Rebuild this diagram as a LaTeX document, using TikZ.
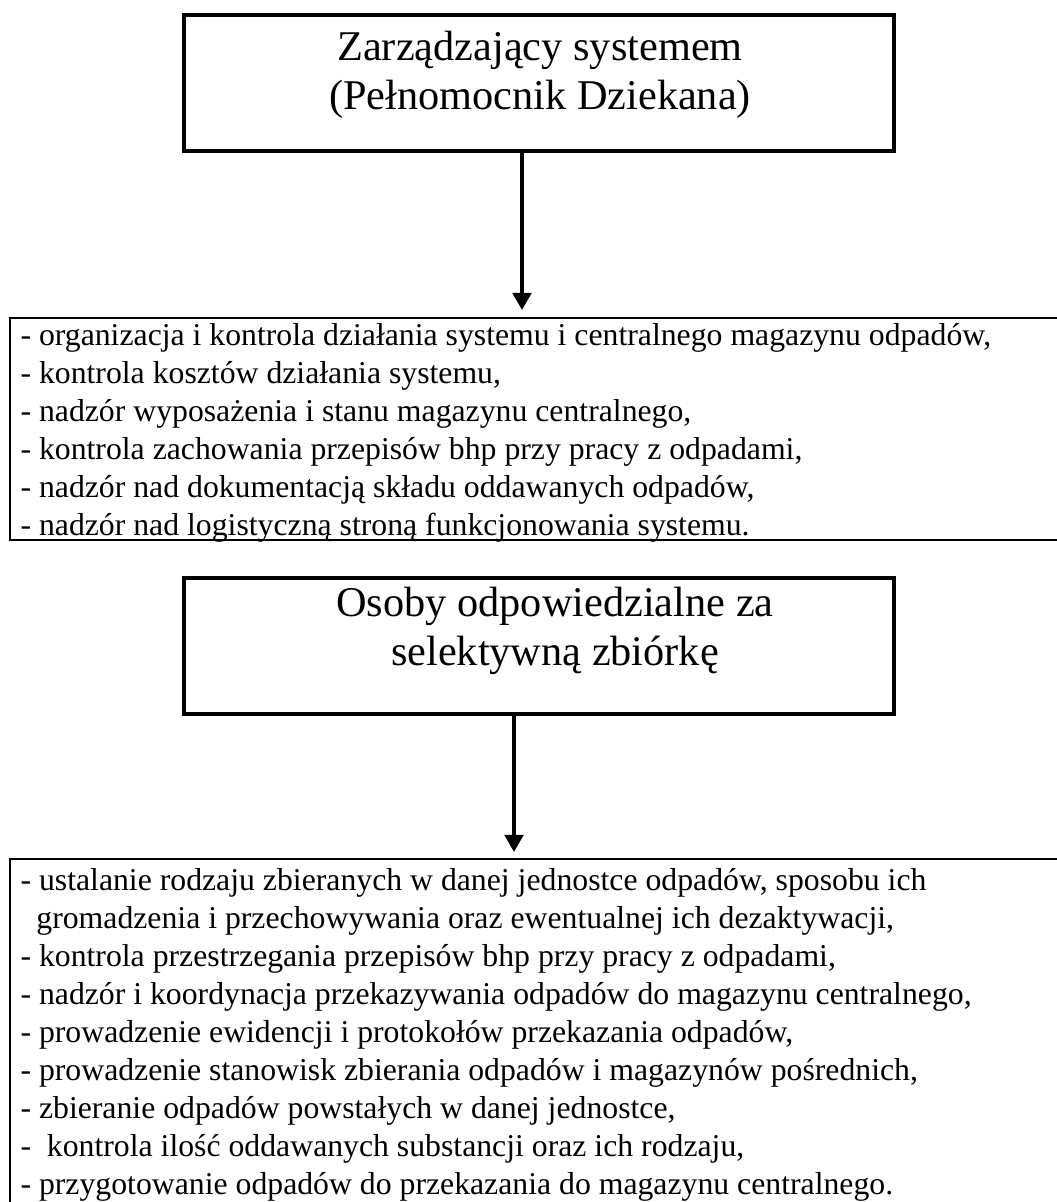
\documentclass[tikz,border=0pt]{standalone}
\usepackage{fontspec}
\setmainfont{Liberation Serif}
\usetikzlibrary{arrows.meta}
\newcommand{\pxUnit}{0.378pt}
\newcommand{\listFont}{\fontsize{12}{14.36}\selectfont}
\newcommand{\titleFont}{\fontsize{16}{18.5}\selectfont}
\newcommand{\openFrame}[4]{%%
  %% A frame that is open to the right (it runs on past the page).
  \draw[frameStyle] (#1) -- (#2) -- (#3) -- (#4);
}
\begin{document}
\begin{tikzpicture}[%%
  x=\pxUnit,y=-\pxUnit,%%
  boxStyle/.style={draw,line width=1.5pt,inner sep=0pt,%%
    minimum width=710*\pxUnit,minimum height=136*\pxUnit},%%
  titleStyle/.style={align=center,font=\titleFont,inner sep=0pt},%%
  listStyle/.style={align=left,font=\listFont,inner sep=0pt,anchor=north west},%%
  frameStyle/.style={line width=0.55pt},%%
  arrowStyle/.style={-{Triangle[width=7pt,length=6.5pt]},line width=1.5pt}%%
]
%%
%%
%% Page size (in pixels of the reference).
\useasboundingbox (0,0) rectangle (1057,1202);
%%
%% Coordinates of the open frames and of the arrow tips.
\coordinate (dutiesTopRight) at (1057,318);
\coordinate (dutiesTopLeft) at (10,318);
\coordinate (dutiesBottomLeft) at (10,540);
\coordinate (dutiesBottomRight) at (1057,540);
\coordinate (tasksTopRight) at (1057,859);
\coordinate (tasksTopLeft) at (10,859);
\coordinate (tasksBottomLeft) at (10,1202);
\coordinate (managerArrowEnd) at (522,310);
\coordinate (staffArrowEnd) at (514,852);
%%
%%
%% The manager of the system.
\node[boxStyle] (managerBox) at (539,83) {};
\node[titleStyle] (managerTitle) at (540,75)
  {Zarządzający systemem\\(Pełnomocnik Dziekana)};
\draw[arrowStyle] (managerBox.south -| managerArrowEnd) -- (managerArrowEnd);
%%
%% The duties of the manager.
\openFrame{dutiesTopRight}{dutiesTopLeft}{dutiesBottomLeft}{dutiesBottomRight}
\node[listStyle] (dutiesList) at (20,323) {%%
  - organizacja i kontrola działania systemu i centralnego magazynu odpadów,\\
  - kontrola kosztów działania systemu,\\
  - nadzór wyposażenia i stanu magazynu centralnego,\\
  - kontrola zachowania przepisów bhp przy pracy z odpadami,\\
  - nadzór nad dokumentacją składu oddawanych odpadów,\\
  - nadzór nad logistyczną stroną funkcjonowania systemu.};
%%
%% The persons responsible for the collection.
\node[boxStyle] (staffBox) at (539,646) {};
\node[titleStyle] (staffTitle) at (555,631)
  {Osoby odpowiedzialne za\\selektywną zbiórkę};
\draw[arrowStyle] (staffBox.south -| staffArrowEnd) -- (staffArrowEnd);
%%
%% The tasks of these persons.
\draw[frameStyle] (tasksTopRight) -- (tasksTopLeft) -- (tasksBottomLeft);
\node[listStyle] (tasksList) at (20,868) {%%
  - ustalanie rodzaju zbieranych w danej jednostce odpadów, sposobu ich\\
  \hspace*{6pt}gromadzenia i przechowywania oraz ewentualnej ich dezaktywacji,\\
  - kontrola przestrzegania przepisów bhp przy pracy z odpadami,\\
  - nadzór i koordynacja przekazywania odpadów do magazynu centralnego,\\
  - prowadzenie ewidencji i protokołów przekazania odpadów,\\
  - prowadzenie stanowisk zbierania odpadów i magazynów pośrednich,\\
  - zbieranie odpadów powstałych w danej jednostce,\\
  -\ \ kontrola ilość oddawanych substancji oraz ich rodzaju,\\
  - przygotowanie odpadów do przekazania do magazynu centralnego.};
\end{tikzpicture}
\end{document}
